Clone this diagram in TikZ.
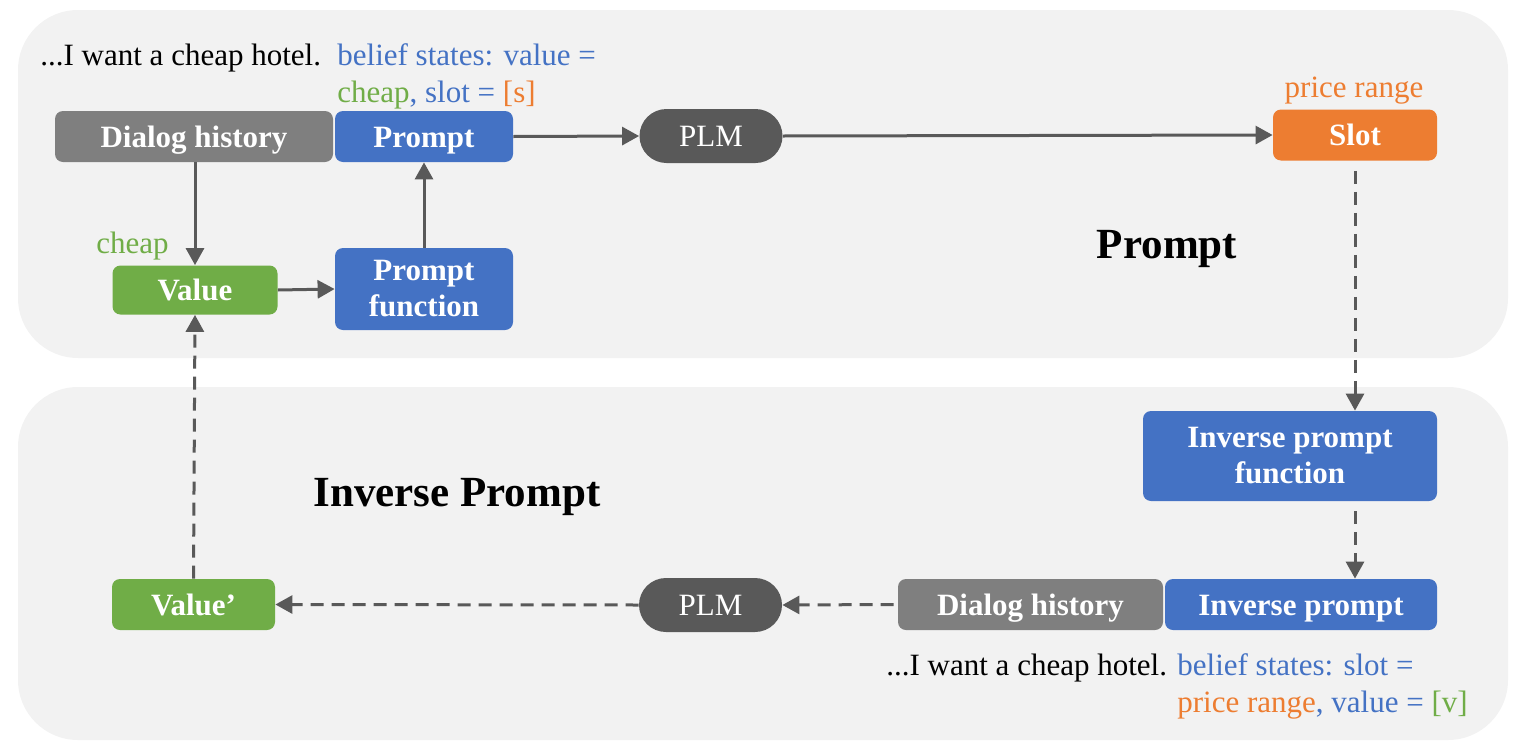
\documentclass[tikz,border=0pt]{standalone}
\usepackage{fontspec}
\setmainfont{Liberation Serif}
\usetikzlibrary{arrows.meta}
\definecolor{panel}{HTML}{F2F2F2}
\definecolor{boxgray}{HTML}{7F7F7F}
\definecolor{boxblue}{HTML}{4472C4}
\definecolor{boxgreen}{HTML}{70AD47}
\definecolor{boxorange}{HTML}{ED7D31}
\definecolor{boxdark}{HTML}{595959}
\tikzset{
  box/.style={rounded corners=4pt, inner sep=0pt, text=white, align=center,
    font=\fontsize{15.5}{18}\selectfont\bfseries},
  oneline/.style={text height=10.5pt, text depth=0pt},
  plmbox/.style={rounded corners=13.5pt, fill=boxdark, inner sep=0pt, text=white,
    minimum width=71.5pt, minimum height=27pt, font=\fontsize{15.5}{18}\selectfont},
  txt/.style={inner sep=0pt, anchor=base west, font=\fontsize{15.5}{18}\selectfont},
  title/.style={inner sep=0pt, anchor=base, font=\fontsize{21.5}{24}\selectfont\bfseries},
  arr/.style={draw=boxdark, line width=1.5pt, -{Triangle[length=8.5pt,width=9pt]}},
  dasharr/.style={arr, dash pattern=on 6.5pt off 4pt}
}
\begin{document}
\begin{tikzpicture}[x=0.5pt,y=-0.5pt]
  \useasboundingbox (0,0) rectangle (1527,750);
  % panels
  \fill[panel, rounded corners=30pt] (18,10) rectangle (1508,358);
  \fill[panel, rounded corners=30pt] (18,387) rectangle (1508,740);

  % prompt part
  \node[box, oneline, fill=boxgray, minimum width=139pt, minimum height=25.5pt] (dialog) at (194,136.5) {Dialog history};
  \node[box, oneline, fill=boxblue, minimum width=89pt, minimum height=25.5pt] (prompt) at (424,136.5) {Prompt};
  \node[plmbox] (plm) at (711,136) {PLM};
  \node[box, oneline, fill=boxorange, minimum width=82pt, minimum height=25.5pt] (slot) at (1355,135) {Slot};
  \node[box, oneline, fill=boxgreen, minimum width=82.5pt, minimum height=24.5pt] (value) at (195,290) {Value};
  \node[box, fill=boxblue, minimum width=89pt, minimum height=41pt] (pfunc) at (424,289) {Prompt\\function};

  \node[txt] (hist) at (40,65) {...I want a cheap hotel.};
  \node[txt, text=boxblue] (belief) at (337,65) {belief states: value =};
  \node[txt] (belieftwo) at (337,102) {\textcolor{boxgreen}{cheap}\textcolor{boxblue}{, slot = }\textcolor{boxorange}{[s]}};
  \node[txt, anchor=base, text=boxorange] (slotval) at (1354,97) {price range};
  \node[txt, text=boxgreen] (cheap) at (96,253) {cheap};
  \node[title] (ptitle) at (1167,258) {Prompt};

  % inverse prompt part
  \node[box, fill=boxblue, minimum width=147pt, minimum height=45pt] (ipfunc) at (1290,456) {Inverse prompt\\function};
  \node[box, oneline, fill=boxblue, minimum width=136pt, minimum height=25.5pt] (iprompt) at (1301,604.5) {Inverse prompt};
  \node[box, oneline, fill=boxgray, minimum width=132.5pt, minimum height=25.5pt] (dialogtwo) at (1030.5,604.5) {Dialog history};
  \node[plmbox] (plmtwo) at (710.5,605) {PLM};
  \node[box, oneline, fill=boxgreen, minimum width=81.5pt, minimum height=25.5pt] (valuetwo) at (193.5,604.5) {Value’};

  \node[txt] (histtwo) at (886,675) {...I want a cheap hotel.};
  \node[txt, text=boxblue] (ibelief) at (1177,675) {belief states: slot =};
  \node[txt] (ibelieftwo) at (1177,712) {\textcolor{boxorange}{price range}\textcolor{boxblue}{, value = }\textcolor{boxgreen}{[v]}};
  \node[title] (ititle) at (457,506) {Inverse Prompt};

  % connectors
  \draw[arr] (value.north |- dialog.south) -- (value.north);
  \draw[arr] (pfunc.north) -- (prompt.south);
  \draw[arr] (value.east) -- (pfunc.west);
  \draw[arr] (prompt.east) -- (plm.west);
  \draw[arr] (plm.east) -- (slot.west);
  \draw[dasharr, shorten <=5pt] (slot.south) -- (slot.south |- ipfunc.north);
  \draw[dasharr, shorten <=5pt] (slot.south |- ipfunc.south) -- (slot.south |- iprompt.north);
  \draw[dasharr, shorten <=2pt] (dialogtwo.west) -- (plmtwo.east);
  \draw[dasharr] (plmtwo.west) -- (valuetwo.east);
  \draw[dasharr] (valuetwo.north) -- (value.south);
\end{tikzpicture}
\end{document}
